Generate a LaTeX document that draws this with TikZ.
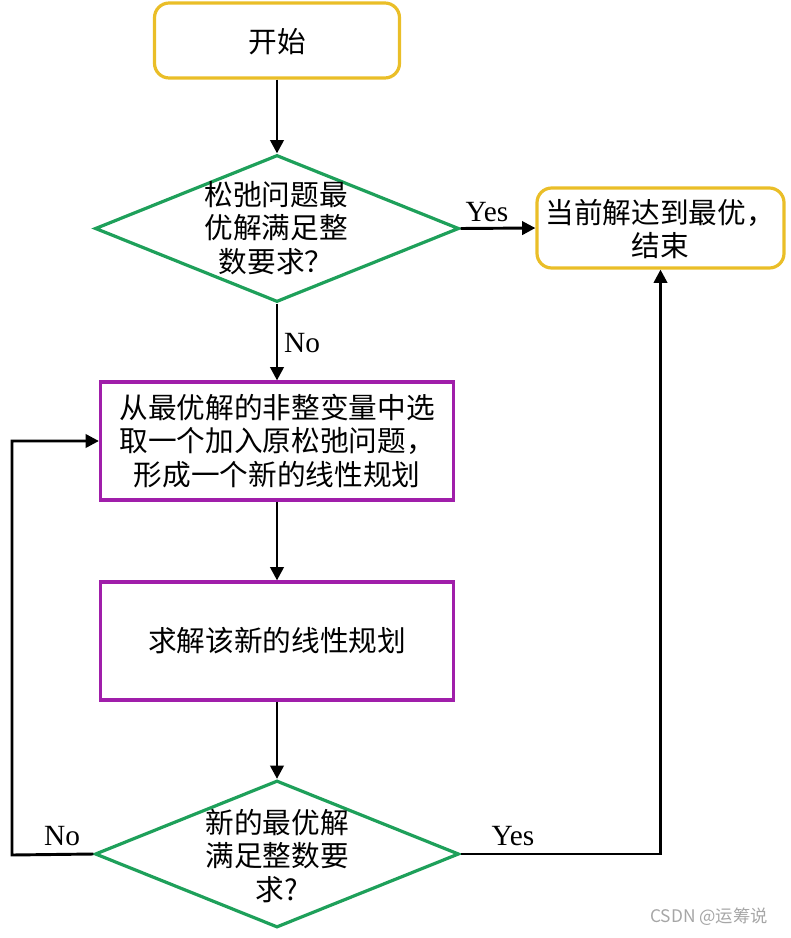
\documentclass[tikz,border=0pt]{standalone}
\usepackage{fontspec}
\setmainfont{Liberation Serif}
\newfontfamily\cjk{Noto Sans CJK SC}
\usetikzlibrary{shapes.geometric,arrows.meta}
\definecolor{gold}{RGB}{234,190,40}
\definecolor{flowgreen}{RGB}{30,160,90}
\definecolor{flowpurple}{RGB}{160,30,170}
\begin{document}
\begin{tikzpicture}[x=0.75pt,y=-0.75pt,
 termbox/.style={draw=gold, line width=2.4pt, rounded corners=11pt, inner sep=0pt},
 procbox/.style={draw=flowpurple, line width=2.4pt, inner sep=0pt, minimum width=264.75pt, minimum height=88.5pt},
 decision/.style={draw=flowgreen, line width=2.4pt, diamond, inner sep=0pt, minimum width=273pt, minimum height=110.25pt},
 txt/.style={font=\cjk\fontsize{21.5}{25}\selectfont, align=center, inner sep=0pt},
 lbl/.style={font=\fontsize{22}{24}\selectfont, inner sep=0pt},
 flow/.style={line width=2.2pt, -{Triangle[length=10pt,width=10pt]}}
]
\useasboundingbox (0,0) rectangle (790,938);

\node[termbox, minimum width=183.75pt, minimum height=56.25pt] (start) at (277,40.5) {};
\node[txt] (startt) at (277,42) {开始};

\node[decision] (d1) at (277,228.5) {};
\node[txt] (d1t) at (276,228) {松弛问题最\\优解满足整\\数要求？};

\node[termbox, minimum width=185.25pt, minimum height=60pt] (end) at (660.5,228) {};
\node[txt] (endt) at (660,229) {当前解达到最优，\\结束};

\node[procbox] (p1) at (277,441) {};
\node[txt] (p1t) at (277,441) {从最优解的非整变量中选\\取一个加入原松弛问题，\\形成一个新的线性规划};

\node[procbox] (p2) at (277,641) {};
\node[txt] (p2t) at (277,641) {求解该新的线性规划};

\node[decision] (d2) at (277,854) {};
\node[txt] (d2t) at (277,856) {新的最优解\\满足整数要\\求?};

\coordinate (lc) at (12,855);

\draw[flow] (start.south) -- (d1.north);
\draw[flow] (d1.east) -- (end.west);
\draw[flow] (d1.south) -- (p1.north);
\draw[flow] (p1.south) -- (p2.north);
\draw[flow] (p2.south) -- (d2.north);
\draw[flow] (d2.west) -- (lc) |- (p1.west);
\draw[flow] (d2.east) -| (end.south);

\node[lbl] (yes1) at (487,212) {Yes};
\node[lbl] (no1) at (302,343) {No};
\node[lbl] (no2) at (62,836) {No};
\node[lbl] (yes2) at (513,836) {Yes};

\node[font=\cjk\fontsize{13}{15}\selectfont, text=gray!70, inner sep=0pt] (csdn) at (709,917) {CSDN @运筹说};
\end{tikzpicture}
\end{document}
